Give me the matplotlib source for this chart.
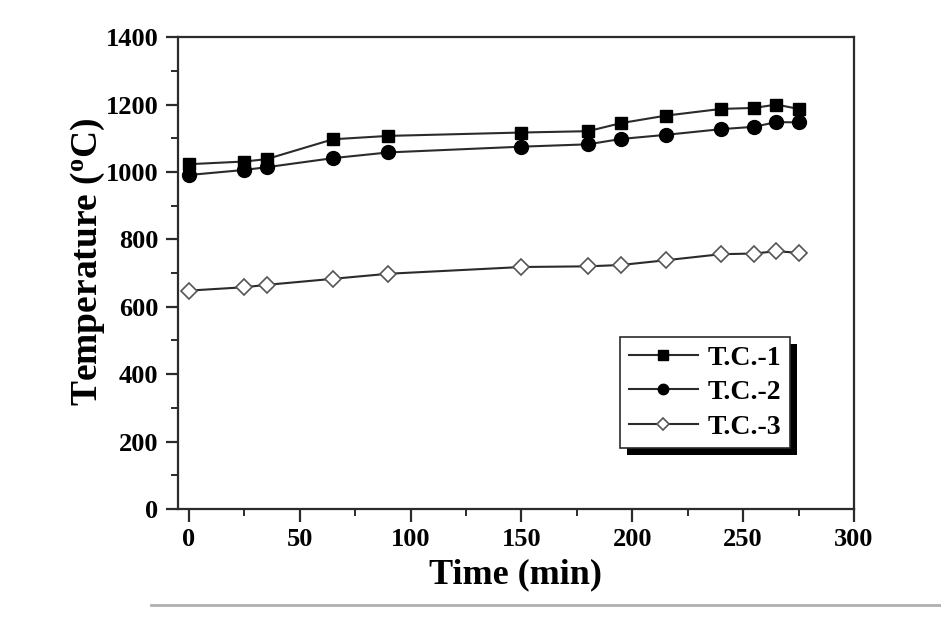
import numpy as np
import matplotlib
matplotlib.use("Agg")
import matplotlib.pyplot as plt
import matplotlib.patches as mpatches
from matplotlib.lines import Line2D

plt.rcParams["font.family"] = ["Liberation Serif", "DejaVu Serif"]
plt.rcParams["font.weight"] = "bold"
plt.rcParams["mathtext.fontset"] = "custom"
plt.rcParams["mathtext.rm"] = "Liberation Serif:bold"
plt.rcParams["mathtext.bf"] = "Liberation Serif:bold"
plt.rcParams["mathtext.it"] = "Liberation Serif:bold"

# time in minutes
time = [0, 25, 35, 65, 90, 150, 180, 195, 215, 240, 255, 265, 275]
tc1 = [1023, 1031, 1038, 1097, 1107, 1117, 1121, 1145, 1167, 1187, 1190, 1200, 1187]
tc2 = [991, 1006, 1014, 1041, 1058, 1075, 1082, 1098, 1110, 1127, 1134, 1148, 1147]
tc3 = [648, 658, 665, 683, 698, 718, 720, 724, 738, 756, 758, 765, 760]
labels = ["T.C.-1", "T.C.-2", "T.C.-3"]

INK = "#2b2b2b"

fig = plt.figure(figsize=(9.41, 6.19), dpi=100)
ax = fig.add_axes([0.189, 0.1777, 0.7185, 0.7623])

ax.plot(time, tc1, color=INK, lw=1.5, marker="s", ms=9,
        mfc="black", mec="black", label=labels[0])
ax.plot(time, tc2, color=INK, lw=1.5, marker="o", ms=10,
        mfc="black", mec="black", label=labels[1])
ax.plot(time, tc3, color=INK, lw=1.5, marker="D", ms=8.5,
        mfc="white", mec="#555555", mew=1.2, label=labels[2])

ax.set_xlim(-5, 300)
ax.set_ylim(0, 1400)
ax.set_xticks(np.arange(0, 301, 50))
ax.set_xticks(np.arange(25, 300, 50), minor=True)
ax.set_yticks(np.arange(0, 1401, 200))
ax.set_yticks(np.arange(100, 1400, 200), minor=True)

for s in ax.spines.values():
    s.set_linewidth(1.6)
    s.set_color(INK)

ax.tick_params(which="major", direction="out", length=9, width=1.6,
               color=INK, labelsize=19, pad=5)
ax.tick_params(which="minor", direction="out", length=5, width=1.4,
               color=INK)
ax.tick_params(top=False, right=False, which="both")
for lab in ax.get_xticklabels() + ax.get_yticklabels():
    lab.set_fontweight("bold")

ax.set_xlabel("Time (min)", fontsize=26, fontweight="bold", labelpad=5)
ax.set_ylabel(r"Temperature ($^{\mathbf{o}}$C)", fontsize=27,
              fontweight="bold")
ax.yaxis.set_label_coords(-0.105, 0.525)

leg = ax.legend(loc="lower right", bbox_to_anchor=(0.905, 0.129),
                borderaxespad=0, fontsize=20, frameon=True, fancybox=False,
                edgecolor=INK, framealpha=1, handlelength=2.5,
                handletextpad=0.35, labelspacing=0.33, borderpad=0.3,
                markerscale=0.75)
leg.get_frame().set_linewidth(1.2)
leg.set_zorder(5)
for t in leg.get_texts():
    t.set_fontweight("bold")

# drop shadow under the legend box
fig.canvas.draw()
bb = leg.get_window_extent().transformed(fig.transFigure.inverted())
dx, dy = 7 / 941, 7 / 619
shadow = mpatches.Rectangle((bb.x0 + dx, bb.y0 - dy), bb.width, bb.height,
                            transform=fig.transFigure, facecolor="black",
                            edgecolor="none", zorder=4)
ax.add_artist(shadow)
shadow.set_transform(fig.transFigure)

# thin grey separator at bottom of the picture
fig.add_artist(Line2D([0.16, 1.0], [0.0226, 0.0226], color="#b0b0b0",
                      lw=2, transform=fig.transFigure))

fig.savefig("out.png", dpi=100, facecolor="white")
